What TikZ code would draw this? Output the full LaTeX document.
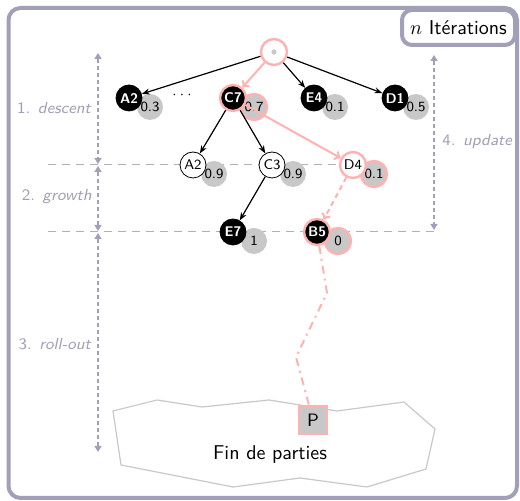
\documentclass[tikz,border=0pt]{standalone}
\usepackage{tikz}
\usetikzlibrary{calc, positioning, arrows.meta}
\definecolor{pathpink}{RGB}{255,178,178}
\definecolor{phase}{RGB}{162,160,184}
\definecolor{valgray}{RGB}{200,200,200}
\tikzset{
    move/.style={circle, draw=black, fill=black, text=white, minimum size=13pt, inner sep=0pt, font=\sffamily\scriptsize\bfseries},
    leaf/.style={circle, draw=black, fill=white, minimum size=13pt, inner sep=0pt, font=\sffamily\scriptsize},
    onpath/.style={draw=pathpink, line width=1.2pt},
    val/.style={circle, fill=valgray, minimum size=13pt, inner sep=0pt, font=\sffamily\scriptsize},
    rootdot/.style={circle, fill=valgray, minimum size=2.6pt, inner sep=0pt},
    edge/.style={-{Stealth[length=4pt, width=3pt]}, black, semithick},
    pathedge/.style={-{To[length=3pt, width=5pt]}, pathpink, line width=1pt},
    phasearrow/.style={{Triangle[length=3pt, width=3.5pt]}-{Triangle[length=3pt, width=3.5pt]}, phase, line width=1pt, dash pattern=on 2pt off 1.5pt},
    phaseline/.style={phase!85, line width=0.5pt, dash pattern=on 4pt off 3pt},
    phaselabel/.style={font=\sffamily\footnotesize, text=phase, inner sep=0pt},
    frame/.style={draw=phase, line width=2pt, rounded corners=6pt},
    titlebox/.style={draw=phase, line width=2pt, fill=white, rounded corners=5pt, minimum width=56.5pt, minimum height=17.5pt, font=\sffamily},
    endbox/.style={rectangle, draw=pathpink, line width=1.2pt, fill=valgray, minimum size=14pt, inner sep=0pt, font=\sffamily\small},
    cloudline/.style={draw=valgray, line width=0.6pt}
}

\begin{document}
\begin{tikzpicture}[x=0.5pt, y=-0.5pt]
    \useasboundingbox (0,0) rectangle (520,501);

    % Frame
    \draw[frame] (8.5,8) rectangle (517,498);
    \node[titlebox, anchor=north east] (iter) at (517,8) {$n$ Itérations};

    % Phase limits
    \coordinate (g1) at (48,165);
    \coordinate (g2) at (48,232);
    \coordinate (g3) at (434,232);
    \draw[phaseline] (g1) -- (353,165);
    \draw[phaseline] (g2) -- (g3);

    % End of games
    \draw[cloudline] (113,411) -- (157,400) -- (202,407) -- (269,400) -- (337,411) -- (404,402)
        -- (435,429) -- (426,469) -- (367,487) -- (300,478) -- (233,487) -- (121,465) -- cycle;
    \node[font=\sffamily] (fin) at (270,455) {Fin de parties};

    % Values
    \foreach \n/\x/\y/\v in {a2/129/98/0.3, e4/314/98/0.1, d1/395/98/0.5, a2b/193/165/0.9, c3/272/165/0.9, e7/233/232/1}
        \node[val] (v-\n) at (\x+21,\y+9) {\v};
    \foreach \n/\x/\y/\v in {c7/233/98/0.7, d4/353/165/0.1, b5/317/232/0}
        \node[val, onpath] (v-\n) at (\x+21,\y+9) {\v};

    % Tree
    \node[circle, fill=white, onpath, minimum size=13pt, inner sep=0pt] (root) at (274,52) {};
    \node[rootdot] (rdot) at (root) {};
    \node[move] (a2) at (129,98) {A2};
    \node[font=\scriptsize] (dots) at (182,95) {$\cdots$};
    \node[move, onpath] (c7) at (233,98) {C7};
    \node[move] (e4) at (314,98) {E4};
    \node[move] (d1) at (395,98) {D1};
    \node[leaf] (a2b) at (193,165) {A2};
    \node[leaf] (c3) at (272,165) {C3};
    \node[leaf, onpath] (d4) at (353,165) {D4};
    \node[move] (e7) at (233,232) {E7};
    \node[move, onpath] (b5) at (317,232) {B5};
    \node[endbox] (p) at (313,420) {P};

    % Edges
    \draw[edge] (root) -- (a2);
    \draw[edge] (root) -- (e4);
    \draw[edge] (root) -- (d1);
    \draw[edge] (c7) -- (a2b);
    \draw[edge] (c7) -- (c3);
    \draw[edge] (c3) -- (e7);
    \draw[pathedge] (root) -- (c7);
    \draw[pathedge] (c7) -- (d4);
    \draw[pathedge, dash pattern=on 2.5pt off 2pt] (d4) -- (b5);
    \coordinate (k1) at (327,293);
    \coordinate (k2) at (296,357);
    \draw[pathpink, line width=1pt, dash pattern=on 4pt off 2.5pt on 1pt off 2.5pt] (b5) -- (k1) -- (k2) -- (p);

    % Phases
    \coordinate (d-top) at (98,53);
    \coordinate (d-bot) at (98,164);
    \coordinate (gr-top) at (98,166);
    \coordinate (gr-bot) at (98,231);
    \coordinate (r-top) at (98,233);
    \coordinate (r-bot) at (98,452);
    \coordinate (u-top) at (434,55);
    \coordinate (u-bot) at (434,230);
    \draw[phasearrow] (d-top) -- (d-bot);
    \draw[phasearrow] (gr-top) -- (gr-bot);
    \draw[phasearrow] (r-top) -- (r-bot);
    \draw[phasearrow] (u-top) -- (u-bot);
    \node[phaselabel, anchor=east] (l-descent) at (92,108) {1. \textit{descent}};
    \node[phaselabel, anchor=east] (l-growth) at (92,197) {2. \textit{growth}};
    \node[phaselabel, anchor=east] (l-rollout) at (92,344) {3. \textit{roll-out}};
    \node[phaselabel, anchor=west] (l-update) at (442,142) {4. \textit{update}};
\end{tikzpicture}
\end{document}
